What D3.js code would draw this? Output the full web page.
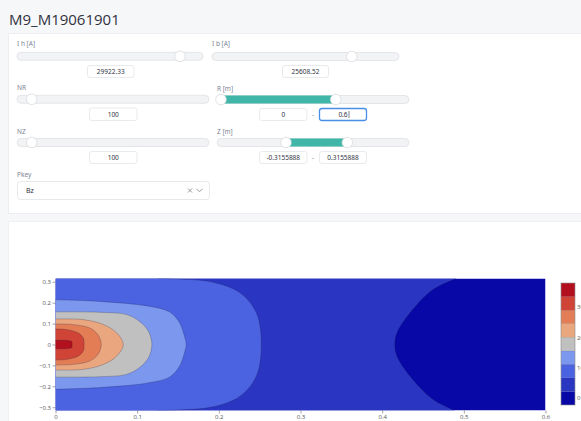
<!DOCTYPE html>
<html>
<head>
<meta charset="utf-8">
<script src="https://cdn.jsdelivr.net/npm/d3@7"></script>
<style>
  body { margin: 0; background: #f6f7f9; overflow: hidden; }
  svg { display: block; font-family: "Noto Sans", "Open Sans", sans-serif; }
</style>
</head>
<body>
<svg id="page" width="581" height="421"></svg>
<script>
// --- data ---
var title = "M9_M19061901";
var ihValue = "29922.33";
var ibValue = "25608.52";
var nrValue = "100";
var nzValue = "100";
var rInputs = ["0", "0.6"];
var zInputs = ["-0.3155888", "0.3155888"];
var pkey = "Bz";

var rRange = [0, 0.6];
var zRange = [-0.3155888, 0.3155888];
var rTicks = [0, 0.1, 0.2, 0.3, 0.4, 0.5, 0.6];
var zTicks = [-0.3, -0.2, -0.1, 0, 0.1, 0.2, 0.3];

// contour bands, low to high
var bandEdges = [-2.25, 2.2, 6.7, 11.2, 15.6, 20.1, 24.6, 29.0, 33.5, 38.0];
var bandColors = ["#0808a6", "#2a36c2", "#4b63e0", "#7b97ee", "#c0c0c0",
                  "#e9a67f", "#e27d55", "#cf4436", "#b2101e"];
var barTicks = [0, 10, 20, 30];

// contour boundaries [r, z], each one encloses the higher values on its left
var edge1 = [[0.491, 0.3156], [0.462, 0.262], [0.434, 0.151], [0.418, 0.055], [0.4155, 0],
             [0.418, -0.055], [0.434, -0.151], [0.462, -0.262], [0.489, -0.3156]];
var edge2 = [[0.125, 0.3156], [0.15, 0.313], [0.193, 0.298], [0.226, 0.247], [0.246, 0.151], [0.252, 0],
             [0.246, -0.151], [0.226, -0.247], [0.193, -0.298], [0.15, -0.313], [0.125, -0.3156]];
var edge3 = [[0, 0.214], [0.054, 0.206], [0.116, 0.182], [0.14, 0.155], [0.152, 0.103], [0.158, 0.038], [0.16, 0],
             [0.158, -0.038], [0.152, -0.103], [0.14, -0.155], [0.116, -0.182], [0.054, -0.206], [0, -0.214]];
var edge4 = [[0, 0.156], [0.054, 0.154], [0.087, 0.143], [0.103, 0.11], [0.114, 0.062], [0.118, 0],
             [0.114, -0.062], [0.103, -0.11], [0.087, -0.143], [0.054, -0.154], [0, -0.156]];
var edge5 = [[0, 0.122], [0.034, 0.119], [0.059, 0.095], [0.075, 0.055], [0.083, 0],
             [0.075, -0.055], [0.059, -0.095], [0.034, -0.119], [0, -0.122]];
var edge6 = [[0, 0.098], [0.022, 0.095], [0.042, 0.079], [0.052, 0.047], [0.056, 0],
             [0.052, -0.047], [0.042, -0.079], [0.022, -0.095], [0, -0.098]];
var edge7 = [[0, 0.074], [0.014, 0.071], [0.028, 0.055], [0.034, 0.031], [0.035, 0],
             [0.034, -0.031], [0.028, -0.055], [0.014, -0.071], [0, -0.074]];
var edge8 = [[0, 0.02], [0.0198, 0.0145], [0.0202, 0], [0.0198, -0.0145], [0, -0.02]];
var edges = [edge1, edge2, edge3, edge4, edge5, edge6, edge7, edge8];

var svg = d3.select("#page");

// --- page frame ---
svg.append("text").attr("x", 9).attr("y", 25).attr("font-size", 15)
    .attr("fill", "#31333f").attr("font-family", "'Open Sans', sans-serif").text(title);
svg.append("rect").attr("x", 8.5).attr("y", 33.5).attr("width", 600).attr("height", 180)
    .attr("fill", "#fff").attr("stroke", "#eceef1");
svg.append("rect").attr("x", 8.5).attr("y", 221.5).attr("width", 600).attr("height", 220)
    .attr("fill", "#fff").attr("stroke", "#f0f1f4");

var ui = svg.append("g");

function label(x, y, t) {
  ui.append("text").attr("x", x).attr("y", y).attr("dy", "0.35em")
      .attr("font-size", 6.5).attr("fill", "#808495").text(t);
}
function slider(x0, x1, yc, handles) {
  ui.append("rect").attr("x", x0).attr("y", yc - 4).attr("width", x1 - x0).attr("height", 8)
      .attr("rx", 4).attr("fill", "#f2f3f5").attr("stroke", "#dcdee2").attr("stroke-width", 0.7);
  if (handles.length == 2) {
    ui.append("rect").attr("x", handles[0]).attr("y", yc - 4).attr("width", handles[1] - handles[0])
        .attr("height", 8).attr("fill", "#40b6a8");
  }
  handles.forEach(function(h) {
    ui.append("circle").attr("cx", h).attr("cy", yc).attr("r", 5.3)
        .attr("fill", "#fff").attr("stroke", "#d4d6da").attr("stroke-width", 0.7);
  });
}
function input(x0, x1, y0, y1, t, focused) {
  ui.append("rect").attr("x", x0).attr("y", y0).attr("width", x1 - x0).attr("height", y1 - y0)
      .attr("rx", 2.5).attr("fill", "#fff")
      .attr("stroke", focused ? "#4a8fe7" : "#dfe1e5").attr("stroke-width", focused ? 1.3 : 0.7);
  ui.append("text").attr("x", (x0 + x1) / 2).attr("y", (y0 + y1) / 2).attr("dy", "0.35em")
      .attr("text-anchor", "middle").attr("font-size", 6.5).attr("fill", "#31333f").text(t);
  if (focused) {
    ui.append("line").attr("x1", (x0 + x1) / 2 + 6).attr("x2", (x0 + x1) / 2 + 6)
        .attr("y1", (y0 + y1) / 2 - 3.5).attr("y2", (y0 + y1) / 2 + 3.5)
        .attr("stroke", "#31333f").attr("stroke-width", 0.6);
  }
}
function dash(x, y) {
  ui.append("text").attr("x", x).attr("y", y).attr("dy", "0.35em").attr("text-anchor", "middle")
      .attr("font-size", 6.5).attr("fill", "#808495").text("-");
}

label(17, 43.5, "I h [A]");
slider(17, 203, 56.3, [180]);
input(87.5, 134, 65.5, 77.5, ihValue, false);

label(212, 43.5, "I b [A]");
slider(212, 399, 56.5, [351.7]);
input(282.5, 328.5, 65.5, 77.5, ibValue, false);

label(17, 88, "NR");
slider(17, 209, 99.3, [31.7]);
input(89.5, 137, 108, 120.5, nrValue, false);

label(217, 88.5, "R [m]");
slider(217, 409, 99.5, [221, 335.7]);
input(259.5, 307, 108.5, 120.5, rInputs[0], false);
dash(313, 114.5);
input(319.5, 366.5, 108.5, 120.5, rInputs[1], true);

label(17, 131.5, "NZ");
slider(17, 209, 142.5, [31.7]);
input(89.5, 137, 151.5, 163.5, nzValue, false);

label(217, 131.5, "Z [m]");
slider(217, 409, 142.5, [286, 347.3]);
input(259.5, 307, 151.5, 163.5, zInputs[0], false);
dash(313, 157.5);
input(319.5, 366.5, 151.5, 163.5, zInputs[1], false);

label(17, 174.5, "Pkey");
ui.append("rect").attr("x", 17.5).attr("y", 181.5).attr("width", 192).attr("height", 18)
    .attr("rx", 3).attr("fill", "#fff").attr("stroke", "#dcdee2").attr("stroke-width", 0.7);
ui.append("text").attr("x", 26).attr("y", 190.5).attr("dy", "0.35em")
    .attr("font-size", 7).attr("fill", "#31333f").text(pkey);
ui.append("path").attr("d", "M188,188.5 L192,192.5 M192,188.5 L188,192.5")
    .attr("fill", "none").attr("stroke", "#8a8d96").attr("stroke-width", 0.9);
ui.append("path").attr("d", "M196.5,188.8 L199.5,191.8 L202.5,188.8")
    .attr("fill", "none").attr("stroke", "#8a8d96").attr("stroke-width", 0.9);

// --- contour chart ---
var x = d3.scaleLinear().domain(rRange).range([55.5, 545.5]);
var y = d3.scaleLinear().domain(zRange).range([410.5, 278.5]);

svg.append("clipPath").attr("id", "plotclip").append("rect")
    .attr("x", x(rRange[0])).attr("y", y(zRange[1]))
    .attr("width", x(rRange[1]) - x(rRange[0])).attr("height", y(zRange[0]) - y(zRange[1]));

var plot = svg.append("g").attr("clip-path", "url(#plotclip)");
plot.append("rect")
    .attr("x", x(rRange[0])).attr("y", y(zRange[1]))
    .attr("width", x(rRange[1]) - x(rRange[0])).attr("height", y(zRange[0]) - y(zRange[1]))
    .attr("fill", bandColors[0]);

var line = d3.line()
    .x(function(d) { return x(d[0]); })
    .y(function(d) { return y(d[1]); })
    .curve(d3.curveCatmullRom.alpha(0.5));

edges.forEach(function(pts, i) {
  var first = pts[0], last = pts[pts.length - 1];
  plot.append("path")
      .attr("d", line(pts) + "L" + x(0) + "," + y(last[1]) + "L" + x(0) + "," + y(first[1]) + "Z")
      .attr("fill", bandColors[i + 1]);
  plot.append("path")
      .attr("d", line(pts))
      .attr("fill", "none").attr("stroke", "#1a1a40").attr("stroke-opacity", 0.4)
      .attr("stroke-width", 0.6);
});

var fmt = d3.format("~g");
var yAxis = svg.append("g").attr("transform", "translate(" + x(rRange[0]) + ",0)")
    .call(d3.axisLeft(y).tickValues(zTicks).tickSize(3).tickPadding(1.5).tickFormat(fmt));
var xAxis = svg.append("g").attr("transform", "translate(0," + y(zRange[0]) + ")")
    .call(d3.axisBottom(x).tickValues(rTicks).tickSize(3).tickPadding(1.5).tickFormat(fmt));
[yAxis, xAxis].forEach(function(a) {
  a.select(".domain").remove();
  a.selectAll(".tick line").attr("stroke", "#666").attr("stroke-width", 0.6);
  a.selectAll(".tick text").attr("font-size", 6).attr("fill", "#555")
      .attr("font-family", "'Open Sans', sans-serif");
});

// --- colour bar ---
var cb = d3.scaleLinear().domain([bandEdges[0], bandEdges[bandEdges.length - 1]]).range([405, 283]);
var bar = svg.append("g");
bandColors.forEach(function(c, i) {
  bar.append("rect").attr("x", 561).attr("width", 14)
      .attr("y", cb(bandEdges[i + 1])).attr("height", cb(bandEdges[i]) - cb(bandEdges[i + 1]))
      .attr("fill", c).attr("stroke", "#000").attr("stroke-opacity", 0.12).attr("stroke-width", 0.5);
});
bar.append("rect").attr("x", 561).attr("width", 14).attr("y", 283).attr("height", 122)
    .attr("fill", "none").attr("stroke", "#999").attr("stroke-width", 0.6);
// the labels run past the window edge, as in the reference
bar.selectAll("text.cbt").data(barTicks).enter().append("text")
    .attr("x", 577).attr("y", function(d) { return cb(d); }).attr("dy", "0.35em")
    .attr("font-size", 6).attr("fill", "#555").attr("font-family", "'Open Sans', sans-serif")
    .text(function(d) { return d; });
</script>
</body>
</html>
